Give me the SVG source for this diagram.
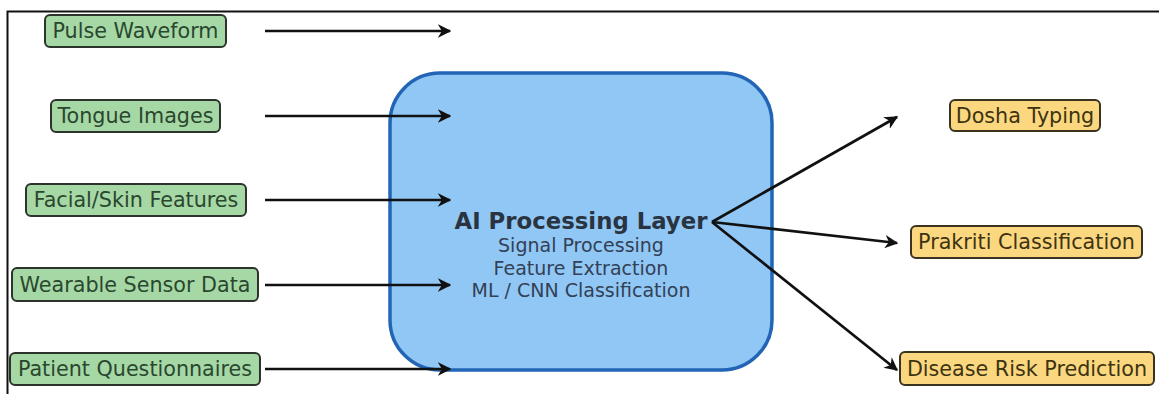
<svg xmlns="http://www.w3.org/2000/svg" width="1159" height="394" viewBox="0 0 1159 394">
  <defs>
    <marker id="arrow" viewBox="0 0 10 10" refX="9" refY="5" markerWidth="5" markerHeight="5" orient="auto" markerUnits="strokeWidth">
      <path d="M0,0 L10,5 L0,10 L3,5 Z" fill="#111"/>
    </marker>
    <style>
      .input rect { fill: #a6d8a6; stroke: #2b332b; stroke-width: 2; }
      .input text { fill: #2a472e; }
      .output rect { fill: #fbd880; stroke: #3a3320; stroke-width: 2; }
      .output text { fill: #3d3312; }
      text { font-family: "DejaVu Sans", "Liberation Sans", sans-serif; font-size: 20.7px; text-anchor: middle; dominant-baseline: central; }
      .core rect { fill: #90c7f5; stroke: #2265b5; stroke-width: 3.5; }
      .core .title { font-weight: bold; font-size: 22.8px; fill: #2a3440; }
      .core .sub { font-size: 19px; fill: #334055; }
      .edge { stroke: #111; stroke-width: 2.7; fill: none; marker-end: url(#arrow); }
    </style>
  </defs>

  <rect width="1159" height="394" fill="#fff"/>
  <!-- outer frame (top and left edges) -->
  <path d="M7.5,394 V11.5 H1159" fill="none" stroke="#111" stroke-width="2"/>

  <!-- input sources -->
  <g id="pulse" class="input">
    <rect x="45" y="15" width="181" height="32" rx="5"/>
    <text x="135.5" y="31">Pulse Waveform</text>
  </g>
  <g id="tongue" class="input">
    <rect x="51" y="100" width="169" height="32" rx="5"/>
    <text x="135.5" y="116">Tongue Images</text>
  </g>
  <g id="facial" class="input">
    <rect x="26" y="184" width="220" height="32" rx="5"/>
    <text x="136" y="200">Facial/Skin Features</text>
  </g>
  <g id="wearable" class="input">
    <rect x="12" y="268" width="246" height="33" rx="5"/>
    <text x="135" y="284.5">Wearable Sensor Data</text>
  </g>
  <g id="questionnaire" class="input">
    <rect x="10" y="353" width="250" height="32" rx="5"/>
    <text x="135" y="369">Patient Questionnaires</text>
  </g>

  <!-- central processing block -->
  <g id="ai-layer" class="core">
    <rect x="390" y="73" width="382" height="297" rx="50"/>
    <text class="title" x="581" y="221">AI Processing Layer</text>
    <text class="sub" x="581" y="245">Signal Processing</text>
    <text class="sub" x="581" y="268">Feature Extraction</text>
    <text class="sub" x="581" y="290">ML / CNN Classification</text>
  </g>

  <!-- outputs -->
  <g id="dosha" class="output">
    <rect x="950" y="100" width="150" height="31" rx="5"/>
    <text x="1025" y="115.5">Dosha Typing</text>
  </g>
  <g id="prakriti" class="output">
    <rect x="911" y="226" width="231" height="32" rx="5"/>
    <text x="1026.5" y="242">Prakriti Classification</text>
  </g>
  <g id="risk" class="output">
    <rect x="900" y="352" width="254" height="33" rx="5"/>
    <text x="1027" y="368.5">Disease Risk Prediction</text>
  </g>

  <!-- connectors -->
  <g id="connectors">
    <line class="edge" x1="265" y1="31" x2="450" y2="31"/>
    <line class="edge" x1="265" y1="116" x2="450" y2="116"/>
    <line class="edge" x1="265" y1="200" x2="450" y2="200"/>
    <line class="edge" x1="265" y1="285" x2="450" y2="285"/>
    <line class="edge" x1="265" y1="369" x2="450" y2="369"/>
    <line class="edge" x1="712" y1="222" x2="897" y2="117"/>
    <line class="edge" x1="712" y1="222" x2="897" y2="243"/>
    <line class="edge" x1="712" y1="222" x2="897" y2="370"/>
  </g>
</svg>
